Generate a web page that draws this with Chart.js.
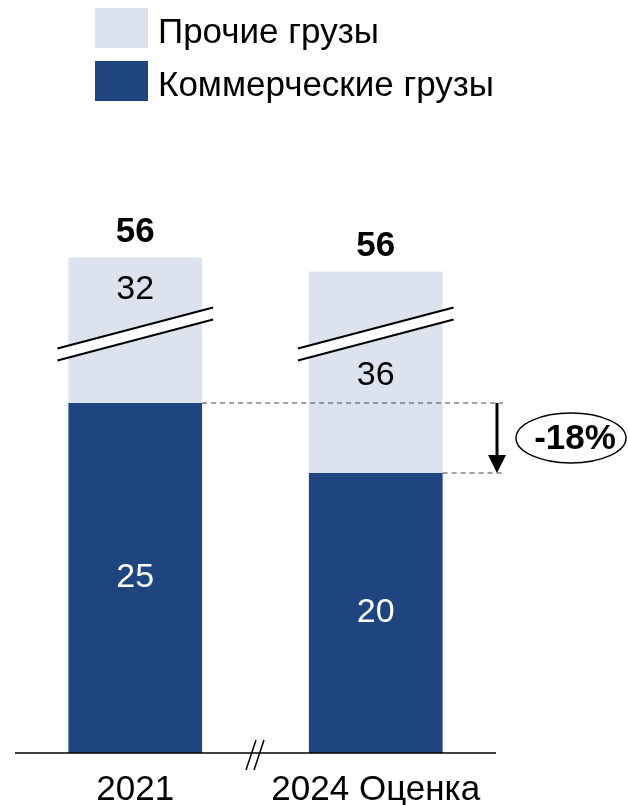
<!DOCTYPE html>
<html>
<head>
<meta charset="utf-8">
<script src="https://cdn.jsdelivr.net/npm/chart.js@4"></script>
<style>
  html, body { margin: 0; padding: 0; background: #ffffff; }
  #cargoChart { display: block; }
</style>
</head>
<body>
<canvas id="cargoChart" width="628" height="805"></canvas>
<script>
// данные графика
const years = ['2021', '2024 Оценка'];
const commercialCargo = [25, 20];
const otherCargo = [32, 36];
const totalLabels = [56, 56];
const changeLabel = '-18%';

// разрыв оси (значения между этими числами вырезаны)
const breakFrom = 30;
const breakTo = 51.6;

const darkBlue = '#1F4580';
const lightBlue = '#DDE3EE';
const fontName = '"Liberation Sans", Arial, sans-serif';

// линейная шкала с разрывом
class BrokenScale extends Chart.LinearScale {
    squash(v) {
        if (v <= breakFrom) return v;
        if (v >= breakTo) return v - (breakTo - breakFrom);
        return breakFrom;
    }
    getPixelForValue(v) {
        return super.getPixelForValue(this.squash(v));
    }
}
BrokenScale.id = 'broken';
BrokenScale.defaults = Chart.LinearScale.defaults;
Chart.register(BrokenScale);

// подписи, легенда, разрывы и стрелка
const decorPlugin = {
    id: 'decor',
    afterDatasetsDraw(chart) {
        const ctx = chart.ctx;
        const x = chart.scales.x;
        const y = chart.scales.y;
        const area = chart.chartArea;
        const metaC = chart.getDatasetMeta(0);
        const metaO = chart.getDatasetMeta(1);
        const breakY = y.getPixelForValue(breakFrom);

        ctx.save();
        ctx.textAlign = 'center';
        ctx.textBaseline = 'middle';

        years.forEach((yr, i) => {
            const barC = metaC.data[i];
            const barO = metaO.data[i];
            const cx = barC.x;
            const half = barC.width / 2;

            // разрыв столбца
            const up0 = breakY - 5, lo0 = breakY + 7;
            const ext = half + 11;
            const slope = 41 / 156;
            ctx.beginPath();
            ctx.moveTo(cx - ext, up0 + ext * slope);
            ctx.lineTo(cx + ext, up0 - ext * slope);
            ctx.lineTo(cx + ext, lo0 - ext * slope);
            ctx.lineTo(cx - ext, lo0 + ext * slope);
            ctx.closePath();
            ctx.fillStyle = '#ffffff';
            ctx.fill();
            ctx.strokeStyle = '#000000';
            ctx.lineWidth = 2;
            ctx.beginPath();
            ctx.moveTo(cx - ext, up0 + ext * slope);
            ctx.lineTo(cx + ext, up0 - ext * slope);
            ctx.moveTo(cx - ext, lo0 + ext * slope);
            ctx.lineTo(cx + ext, lo0 - ext * slope);
            ctx.stroke();

            // значения
            ctx.font = '34px ' + fontName;
            ctx.fillStyle = '#ffffff';
            ctx.fillText(String(commercialCargo[i]), cx, (barC.y + barC.base) / 2);
            ctx.fillStyle = '#000000';
            const oy = i === 0 ? breakY - 43 : breakY + 43;
            ctx.fillText(String(otherCargo[i]), cx, oy);

            ctx.font = 'bold 35px ' + fontName;
            ctx.fillText(String(totalLabels[i]), cx, barO.y - 25);

            // подписи оси X
            ctx.font = '35px ' + fontName;
            ctx.textBaseline = 'alphabetic';
            ctx.fillText(yr, x.getPixelForValue(i), 800);
            ctx.textBaseline = 'middle';
        });

        // ось X
        const axisY = area.bottom;
        ctx.strokeStyle = '#000000';
        ctx.lineWidth = 1.5;
        ctx.beginPath();
        ctx.moveTo(area.left, axisY);
        ctx.lineTo(area.right, axisY);
        ctx.stroke();
        ctx.beginPath();
        ctx.moveTo(246, axisY + 17);
        ctx.lineTo(256, axisY - 13);
        ctx.moveTo(254, axisY + 17);
        ctx.lineTo(264, axisY - 13);
        ctx.stroke();

        // пунктир и стрелка
        const y1 = y.getPixelForValue(commercialCargo[0]);
        const y2 = y.getPixelForValue(commercialCargo[1]);
        const b0 = metaC.data[0], b1 = metaC.data[1];
        ctx.setLineDash([5, 4]);
        ctx.strokeStyle = '#444444';
        ctx.lineWidth = 1.2;
        ctx.beginPath();
        ctx.moveTo(b0.x + b0.width / 2, y1);
        ctx.lineTo(503, y1);
        ctx.moveTo(b1.x + b1.width / 2, y2);
        ctx.lineTo(503, y2);
        ctx.stroke();
        ctx.setLineDash([]);

        const ax = 497;
        ctx.strokeStyle = '#000000';
        ctx.lineWidth = 3;
        ctx.beginPath();
        ctx.moveTo(ax, y1);
        ctx.lineTo(ax, y2 - 16);
        ctx.stroke();
        ctx.fillStyle = '#000000';
        ctx.beginPath();
        ctx.moveTo(ax - 9, y2 - 18);
        ctx.lineTo(ax + 9, y2 - 18);
        ctx.lineTo(ax, y2);
        ctx.closePath();
        ctx.fill();

        // овал с процентом
        const ey = (y1 + y2) / 2;
        ctx.lineWidth = 1.5;
        ctx.beginPath();
        ctx.ellipse(571, ey, 55, 25, 0, 0, Math.PI * 2);
        ctx.stroke();
        ctx.font = 'bold 35px ' + fontName;
        ctx.fillText(changeLabel, 575, ey + 1);

        // легенда
        const legendItems = [
            { label: chart.data.datasets[1].label, color: lightBlue, top: 8 },
            { label: chart.data.datasets[0].label, color: darkBlue, top: 61 }
        ];
        ctx.textAlign = 'left';
        ctx.textBaseline = 'alphabetic';
        ctx.font = '35px ' + fontName;
        legendItems.forEach(item => {
            ctx.fillStyle = item.color;
            ctx.fillRect(95, item.top, 53, 40);
            ctx.fillStyle = '#000000';
            ctx.fillText(item.label, 158, item.top + 35);
        });

        ctx.restore();
    }
};

const chart = new Chart(document.getElementById('cargoChart'), {
    type: 'bar',
    data: {
        labels: years,
        datasets: [
            {
                label: 'Коммерческие грузы',
                data: commercialCargo,
                backgroundColor: darkBlue,
                borderWidth: 0,
                categoryPercentage: 0.556,
                barPercentage: 1
            },
            {
                label: 'Прочие грузы',
                data: otherCargo,
                backgroundColor: lightBlue,
                borderWidth: 0,
                categoryPercentage: 0.556,
                barPercentage: 1
            }
        ]
    },
    options: {
        responsive: false,
        animation: false,
        devicePixelRatio: 1,
        layout: {
            padding: { left: 15, right: 132, top: 193, bottom: 52 }
        },
        plugins: {
            legend: { display: false },
            tooltip: { enabled: false }
        },
        scales: {
            x: {
                stacked: true,
                display: false
            },
            y: {
                type: 'broken',
                stacked: true,
                display: false,
                min: 0,
                max: 40
            }
        }
    },
    plugins: [decorPlugin]
});
</script>
</body>
</html>
